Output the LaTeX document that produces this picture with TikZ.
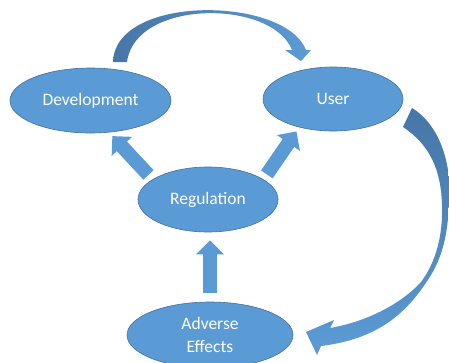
\documentclass[tikz,border=0pt]{standalone}
\usepackage{fontspec}
\setmainfont{Carlito}
\usetikzlibrary{shapes.geometric,arrows.meta}
\definecolor{stagefill}{HTML}{5B9BD5}
\definecolor{stageline}{HTML}{41719C}
\definecolor{bendark}{HTML}{4676A6}

\begin{document}
\begin{tikzpicture}[x=1pt,y=-1pt,
    stage/.style={ellipse,fill=stagefill,draw=stageline,line width=0.6pt,text=white,
      inner sep=0pt,align=center,font=\fontsize{17.5}{22.5}\selectfont},
    flow/.style={draw=stagefill,line width=14pt,-{Triangle[width=27pt,length=14pt]},
      shorten <=6pt,shorten >=5pt}]
    \useasboundingbox (0,0) rectangle (449,362);
    \fill[white] (0,0) rectangle (449,362);

    \node[stage,minimum width=161pt,minimum height=65pt] (dev) at (90.5,100.5) {Development};
    \node[stage,minimum width=140pt,minimum height=64pt] (user) at (333,99) {User};
    \node[stage,minimum width=140pt,minimum height=65pt] (reg) at (208,199.5) {Regulation};
    \node[stage,minimum width=166pt,minimum height=66pt] (adv) at (210,335) {Adverse\\Effects};

    \draw[flow] (reg.160) -- (dev.-60);
    \draw[flow] (reg.20) -- (user.-140);
    \draw[flow,shorten <=9pt,shorten >=8pt] (adv.north) -- (adv.north |- reg.south);

    \shade[left color=bendark,right color=stagefill]
      (113,62) .. controls (115,-6) and (285,-4) .. (306,50) -- (311,50) -- (301,61) -- (285,50)
      -- (292,50) .. controls (272,-1) and (135,-1) .. (127,62) -- cycle;
    \shade[top color=bendark,bottom color=stagefill]
      (403,127) -- (412,108) .. controls (440,125) and (452,165) .. (449,200)
      .. controls (448,250) and (435,270) .. (423,287) .. controls (400,320) and (370,340) .. (321,346)
      -- (317,355) -- (306,332) -- (334,320) -- (330,328)
      .. controls (365,322) and (400,305) .. (421,282) .. controls (436,262) and (443,235) .. (442,205)
      .. controls (441,170) and (430,145) .. (403,127) -- cycle;
\end{tikzpicture}
\end{document}
